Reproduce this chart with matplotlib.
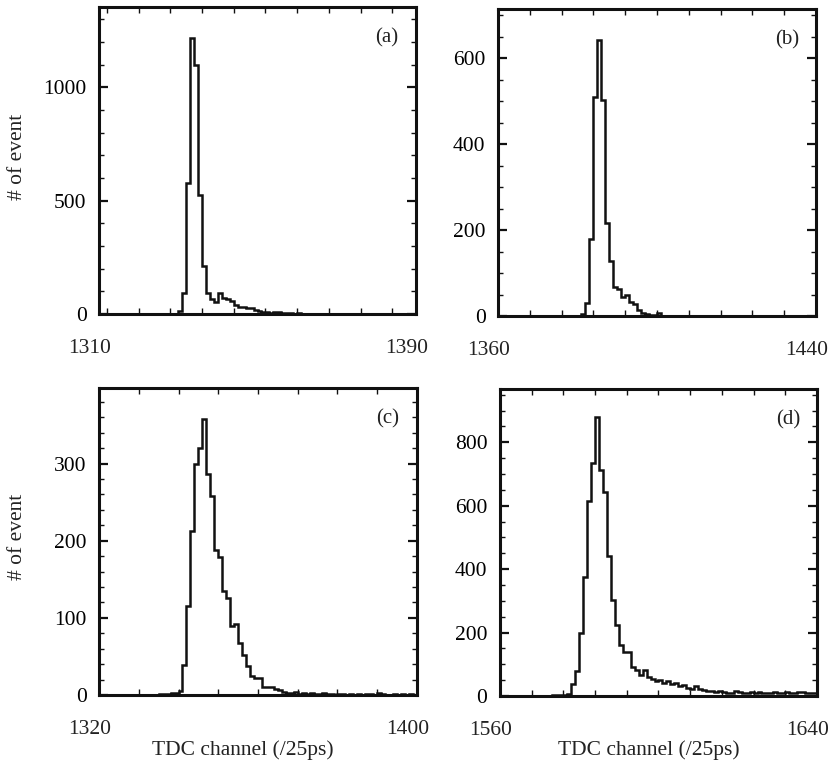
import matplotlib
matplotlib.use("Agg")
import matplotlib.pyplot as plt
from matplotlib.ticker import MultipleLocator, FixedLocator
import numpy as np

plt.rcParams["font.family"] = ["Liberation Serif", "DejaVu Serif"]
plt.rcParams["font.size"] = 15.5

# counts per TDC channel (1 channel bins), first channel given separately
start_a = 1330
counts_a = [13, 91, 578, 1218, 1100, 524, 212, 91, 65, 54,
            91, 69, 65, 57, 40, 32, 29, 28, 25, 18,
            13, 10, 7, 6, 9, 7, 4, 3, 3, 2,
            3, 2, 1, 2, 1, 1, 0, 1, 0, 1,
            1, 0, 0, 1, 0, 1, 0, 0, 1, 0,
            0, 0, 1, 0, 0, 1, 0, 0, 1, 0]

start_b = 1380
counts_b = [1, 4, 31, 179, 510, 643, 504, 216, 129, 68,
            62, 45, 50, 32, 28, 15, 8, 4, 2, 2,
            6, 1, 1, 0, 1, 0, 0, 1, 0, 0,
            0, 1, 0, 0, 0, 0, 0, 1, 0, 0]

start_c = 1335
counts_c = [1, 1, 1, 2, 3, 5, 39, 116, 213, 300,
            320, 358, 287, 258, 188, 179, 135, 126, 90, 92,
            67, 52, 38, 25, 22, 22, 11, 10, 10, 8,
            6, 4, 3, 2, 4, 1, 2, 1, 2, 1,
            1, 2, 1, 1, 0, 1, 1, 0, 1, 0,
            1, 0, 1, 1, 0, 2, 1, 0, 0, 1,
            0, 1, 0, 1, 0]

start_d = 1570
counts_d = [1, 1, 1, 2, 2, 3, 4, 5, 38, 78,
            198, 375, 615, 735, 880, 712, 642, 440, 303, 225,
            160, 140, 138, 92, 83, 65, 83, 60, 55, 47,
            52, 42, 47, 37, 42, 32, 34, 25, 23, 31,
            21, 20, 16, 15, 13, 16, 13, 11, 11, 15,
            13, 11, 9, 12, 9, 13, 9, 11, 9, 12,
            11, 9, 13, 11, 9, 12, 13, 11, 10, 9]

xranges = [(1310, 1390), (1360, 1440), (1320, 1400), (1560, 1640)]
yranges = [1355, 715, 398, 968]
ymajor = [500, 200, 100, 200]
yminor = [100, 50, 20, 50]
xminor = [8, 8, 10, 8]
tags = ["(a)", "(b)", "(c)", "(d)"]
starts = [start_a, start_b, start_c, start_d]
series = [counts_a, counts_b, counts_c, counts_d]

# axes rectangles in figure fraction (left, bottom, width, height)
rects = [(0.1193, 0.5917, 0.3819, 0.3992),
         (0.6000, 0.5891, 0.3831, 0.3992),
         (0.1193, 0.0962, 0.3831, 0.3992),
         (0.6024, 0.0949, 0.3819, 0.3992)]

fig = plt.figure(figsize=(8.30, 7.69), dpi=100)

for i in range(4):
    ax = fig.add_axes(rects[i])
    vals = np.array(series[i], dtype=float)
    edges = starts[i] + np.arange(len(vals) + 1)
    ax.stairs(vals, edges, color="#111111", linewidth=1.8, baseline=0)

    lo, hi = xranges[i]
    ax.set_xlim(lo, hi)
    ax.set_ylim(0, yranges[i])

    for s in ax.spines.values():
        s.set_linewidth(2.2)
        s.set_color("#111111")

    ax.xaxis.set_major_locator(FixedLocator([lo, hi]))
    ax.xaxis.set_minor_locator(MultipleLocator(xminor[i]))
    ax.set_xticklabels([])
    ax.yaxis.set_major_locator(MultipleLocator(ymajor[i]))
    ax.yaxis.set_minor_locator(MultipleLocator(yminor[i]))

    ax.tick_params(which="both", direction="in", top=True, right=True,
                   color="#111111")
    ax.tick_params(axis="x", which="both", length=4.5, width=1.0)
    ax.tick_params(axis="y", which="major", length=6.5, width=1.6, pad=9)
    ax.tick_params(axis="y", which="minor", length=3.3, width=1.0)

    # x tick labels only at both ends, shifted a little left as in the original
    for xv in (lo, hi):
        ax.annotate(str(xv), xy=(xv, 0), xycoords=("data", "axes fraction"),
                    xytext=(-7, -18), textcoords="offset points",
                    ha="center", va="top", color="#222222")

    ax.text(0.908, 0.90, tags[i], transform=ax.transAxes,
            ha="center", va="center", fontsize=15, color="#222222")

fig.text(18 / 830, 1 - 157 / 769, "# of event", rotation=90,
         ha="center", va="center", color="#222222")
fig.text(18 / 830, 1 - 537 / 769, "# of event", rotation=90,
         ha="center", va="center", color="#222222")
fig.text(243 / 830, 1 - 750 / 769, "TDC channel (/25ps)",
         ha="center", va="center", color="#222222")
fig.text(649 / 830, 1 - 750 / 769, "TDC channel (/25ps)",
         ha="center", va="center", color="#222222")

fig.savefig("out.png", dpi=100)
